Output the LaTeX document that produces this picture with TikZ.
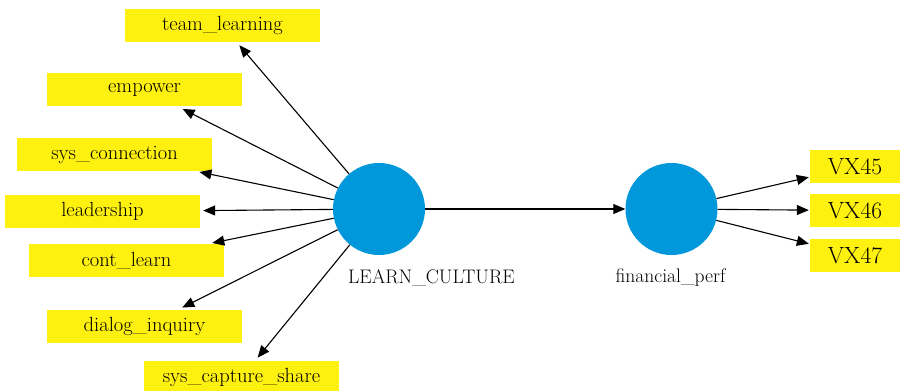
\documentclass[tikz,border=0pt]{standalone}
\usepackage{fontspec}
\usepackage{tikz}
\usetikzlibrary{arrows.meta}

\definecolor{itemyellow}{RGB}{255,241,15}
\definecolor{lvblue}{RGB}{0,152,218}

\tikzset{
  item/.style={minimum width=195pt, minimum height=33pt, inner sep=0pt, fill=itemyellow, font=\fontsize{20.5}{24}\selectfont},
  vxitem/.style={item, minimum width=90pt, font=\fontsize{23.5}{27}\selectfont},
  latent/.style={circle, minimum size=92pt, inner sep=0pt, fill=lvblue},
  lvname/.style={inner sep=0pt, font=\fontsize{19.6}{23}\selectfont},
  link/.style={-{Triangle[length=12pt,width=10pt]}, line width=1.1pt}
}

\begin{document}
\begin{tikzpicture}[x=1pt, y=-1pt]
\useasboundingbox (0, 0) rectangle (903, 391);

\node[latent] (learn culture) at (379, 209) {};
\node[latent] (fin perf) at (671.5, 209) {};

\node[lvname, anchor=base west] (learn culture name) at (348, 283) {LEARN\_CULTURE};
\node[lvname, anchor=base] (fin perf name) at (670.5, 282) {financial\_perf};

\node[item] (team learning) at (222.5, 25.5) {team\_learning};
\node[item] (empower) at (144.5, 89.5) {empower};
\node[item] (sys connection) at (114.5, 154.5) {sys\_connection};
\node[item] (leadership) at (102.5, 211.5) {leadership};
\node[item] (cont learn) at (126.5, 260.5) {cont\_learn};
\node[item] (dialog inquiry) at (144.5, 326.5) {dialog\_inquiry};
\node[item] (sys capture share) at (241.5, 377.5) {sys\_capture\_share};

\node[vxitem] (vx a) at (855, 166.5) {VX45};
\node[vxitem] (vx b) at (855, 210.5) {VX46};
\node[vxitem] (vx c) at (855, 255.5) {VX47};

\draw[link, shorten >=4pt] (learn culture) -- (team learning) {};
\draw[link, shorten >=6pt] (learn culture) -- (empower) {};
\draw[link, shorten >=4pt] (learn culture) -- (sys connection) {};
\draw[link, shorten >=3pt] (learn culture) -- (leadership) {};
\draw[link, shorten >=4pt] (learn culture) -- (cont learn) {};
\draw[link, shorten >=5pt] (learn culture) -- (dialog inquiry) {};
\draw[link, shorten >=4pt] (learn culture) -- (sys capture share) {};

\draw[link] (learn culture) -- (fin perf) {};

\draw[link, shorten >=1pt] (fin perf) -- (vx a) {};
\draw[link, shorten >=1pt] (fin perf) -- (vx b) {};
\draw[link, shorten >=1pt] (fin perf) -- (vx c) {};
\end{tikzpicture}
\end{document}
